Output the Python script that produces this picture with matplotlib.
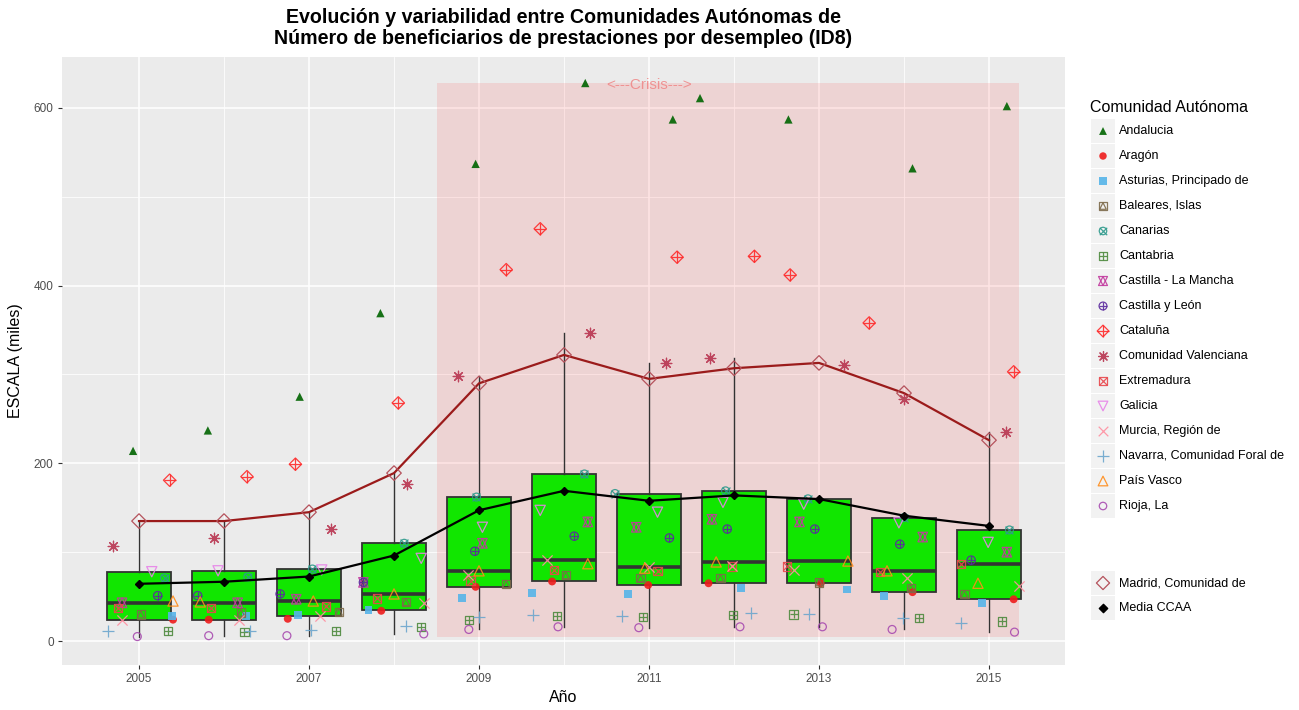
import numpy as np
import matplotlib.pyplot as plt
from matplotlib.patches import Rectangle

plt.rcParams['font.family'] = ['Liberation Sans', 'DejaVu Sans']

years = np.arange(2005, 2016)

# valores en miles
andalucia   = [214, 237, 275, 369, 537, 628, 587, 611, 587, 532, 602]
aragon      = [24, 24, 25, 34, 61, 67, 63, 65, 65, 55, 47]
asturias    = [28, 28, 29, 35, 48, 54, 53, 60, 58, 51, 43]
baleares    = [30, 32, 33, 44, 64, 74, 71, 71, 66, 60, 53]
canarias    = [71, 72, 81, 110, 162, 188, 166, 169, 160, 139, 125]
cantabria   = [11, 10, 11, 16, 24, 28, 27, 29, 30, 26, 22]
clm         = [43, 43, 47, 66, 110, 134, 128, 137, 134, 117, 100]
cyl         = [51, 51, 53, 66, 101, 118, 116, 126, 126, 109, 91]
cataluna    = [181, 185, 199, 268, 418, 464, 432, 433, 412, 358, 303]
valenciana  = [107, 116, 126, 177, 298, 347, 313, 318, 311, 272, 235]
extremadura = [37, 37, 39, 48, 68, 80, 79, 84, 84, 78, 87]
galicia     = [78, 79, 80, 93, 128, 147, 145, 156, 154, 133, 111]
murcia      = [24, 24, 28, 43, 74, 91, 83, 84, 80, 71, 62]
navarra     = [11, 11, 12, 17, 27, 29, 28, 31, 30, 26, 20]
pais_vasco  = [45, 44, 45, 53, 79, 87, 82, 89, 90, 79, 65]
rioja       = [5, 6, 6, 8, 13, 16, 15, 16, 16, 13, 10]
madrid      = [135, 135, 145, 189, 290, 322, 295, 307, 313, 279, 226]

# desplazamiento horizontal (jitter) de cada punto
j_andalucia   = [-0.07, -0.19, -0.11, -0.16, -0.04, 0.25, 0.28, -0.40, -0.36, 0.10, 0.21]
j_aragon      = [0.40, -0.18, -0.25, -0.15, -0.04, -0.14, -0.01, -0.30, 0.02, 0.10, 0.29]
j_asturias    = [0.39, 0.26, -0.13, -0.30, -0.20, -0.38, -0.25, 0.08, 0.33, -0.24, -0.08]
j_baleares    = [0.02, 0.20, 0.35, 0.14, 0.32, 0.02, -0.10, -0.16, 0.00, 0.08, -0.29]
j_canarias    = [0.30, 0.28, 0.04, 0.12, -0.03, 0.24, -0.40, -0.10, -0.13, 0.00, 0.24]
j_cantabria   = [0.34, 0.24, 0.32, 0.32, -0.12, -0.08, -0.07, -0.01, -0.30, 0.18, 0.15]
j_clm         = [-0.20, 0.16, -0.15, -0.36, 0.04, 0.28, -0.15, -0.26, -0.23, 0.22, 0.21]
j_cyl         = [0.22, -0.31, -0.34, -0.36, -0.05, 0.12, 0.24, -0.08, -0.05, -0.05, -0.21]
j_cataluna    = [0.36, 0.27, -0.16, 0.05, 0.32, -0.28, 0.33, 0.24, -0.34, -0.41, 0.29]
j_valenciana  = [-0.31, -0.12, 0.26, 0.15, -0.25, 0.30, 0.20, -0.28, 0.29, 0.00, 0.20]
j_extremadura = [-0.25, -0.15, 0.20, -0.20, -0.10, -0.12, 0.10, -0.02, -0.38, -0.28, -0.33]
j_galicia     = [0.15, -0.07, 0.15, 0.32, 0.04, -0.28, 0.10, -0.13, -0.18, -0.06, -0.01]
j_murcia      = [-0.20, 0.18, 0.13, 0.35, -0.13, -0.20, 0.00, -0.02, -0.30, 0.03, 0.35]
j_navarra     = [-0.36, 0.31, 0.02, 0.14, 0.00, -0.36, -0.32, 0.20, -0.12, -0.01, -0.33]
j_pais_vasco  = [0.40, -0.28, 0.05, 0.00, 0.00, 0.28, -0.05, -0.21, 0.34, -0.20, -0.13]
j_rioja       = [-0.02, -0.18, -0.26, 0.35, -0.12, -0.07, -0.12, 0.07, 0.04, -0.14, 0.30]

LINE_MK = ('x', '+', (8, 2, 0))

# nombre, valores, jitter, color, partes del simbolo (marker, relleno, escala)
ccaa = [
    ('Andalucia', andalucia, j_andalucia, '#006400', [('^', True, 1.0)]),
    ('Aragón', aragon, j_aragon, '#EE1C1C', [('o', True, 0.9)]),
    ('Asturias, Principado de', asturias, j_asturias, '#56B4E9', [('s', True, 0.9)]),
    ('Baleares, Islas', baleares, j_baleares, '#7D6A4A', [('s', False, 1.0), ('^', False, 0.7)]),
    ('Canarias', canarias, j_canarias, '#2E9A8C', [('o', False, 0.9), ('x', False, 0.9)]),
    ('Cantabria', cantabria, j_cantabria, '#4E8A3E', [('s', False, 1.0), ('+', False, 1.0)]),
    ('Castilla - La Mancha', clm, j_clm, '#C23A9E', [('^', False, 1.3), ('v', False, 1.3)]),
    ('Castilla y León', cyl, j_cyl, '#5B2A9E', [('o', False, 1.0), ('+', False, 1.0)]),
    ('Cataluña', cataluna, j_cataluna, '#FF2A2A', [('D', False, 1.1), ('+', False, 2.0)]),
    ('Comunidad Valenciana', valenciana, j_valenciana, '#B8334F', [((8, 2, 0), False, 1.6)]),
    ('Extremadura', extremadura, j_extremadura, '#E8474C', [('s', False, 1.0), ('x', False, 1.0)]),
    ('Galicia', galicia, j_galicia, '#E783E8', [('v', False, 1.5)]),
    ('Murcia, Región de', murcia, j_murcia, '#FF8FA0', [('x', False, 1.5)]),
    ('Navarra, Comunidad Foral de', navarra, j_navarra, '#6CA6CD', [('+', False, 2.0)]),
    ('País Vasco', pais_vasco, j_pais_vasco, '#FF8C1A', [('^', False, 1.5)]),
    ('Rioja, La', rioja, j_rioja, '#A84BB0', [('o', False, 0.9)]),
]


def simbolo(ax, x, y, color, parts, s=36, z=5, transform=None, alpha=0.9):
    kw = {} if transform is None else {'transform': transform}
    for mk, filled, k in parts:
        if filled:
            ax.scatter(x, y, s=s * k, marker=mk, c=color, edgecolors='none',
                       zorder=z, alpha=alpha, **kw)
        elif isinstance(mk, tuple) or mk in LINE_MK:
            ax.scatter(x, y, s=s * k, marker=mk, color=color, linewidths=0.9,
                       zorder=z, alpha=alpha, **kw)
        else:
            ax.scatter(x, y, s=s * k, marker=mk, facecolors='none', edgecolors=color,
                       linewidths=0.9, zorder=z, alpha=alpha, **kw)


W, H = 1299, 710
fig = plt.figure(figsize=(W / 100, H / 100), dpi=100)
ax = fig.add_axes([62 / W, 45 / H, 1003 / W, 608 / H])
ax.set_facecolor('#EBEBEB')
for sp in ax.spines.values():
    sp.set_visible(False)

todos = np.array([c[1] for c in ccaa] + [madrid], dtype=float)   # 17 x 11
media = todos.mean(axis=0)

# zona de crisis
xs_all = np.concatenate([years + np.array(c[2]) for c in ccaa])
x0, x1 = 2008.5, xs_all.max()
y0, y1 = todos.min(), todos.max()
ax.add_patch(Rectangle((x0, y0), x1 - x0, y1 - y0, facecolor='red', alpha=0.1,
                       edgecolor='none', zorder=1))
ax.text(2011, y1 - 2, '<---Crisis--->', color='#F08080', fontsize=11,
        ha='center', va='center', alpha=0.8, zorder=2)

# cajas
bp = ax.boxplot([todos[:, i] for i in range(len(years))], positions=years, widths=0.75,
                patch_artist=True, showfliers=False, whis=1.5, manage_ticks=False,
                boxprops=dict(facecolor='#11E600', edgecolor='#333333', linewidth=1.3),
                medianprops=dict(color='#333333', linewidth=2.6),
                whiskerprops=dict(color='#333333', linewidth=1.0),
                capprops=dict(linewidth=0))
for art in bp['boxes'] + bp['medians'] + bp['whiskers']:
    art.set_zorder(3)

# puntos de cada comunidad
for nombre, vals, jit, color, parts in ccaa:
    simbolo(ax, years + np.array(jit), vals, color, parts)

# Madrid y media
ax.plot(years, madrid, color='#9B1B1B', linewidth=1.6, zorder=4)
ax.scatter(years, madrid, marker='D', s=55, facecolors='none', edgecolors='#B5525C',
           linewidths=0.9, zorder=6)
ax.plot(years, media, color='black', linewidth=1.6, marker='D', markersize=4.5, zorder=6)

ax.set_xlim(2004.094, 2015.894)
ax.set_ylim(-27, 657.3)
ax.set_xticks(np.arange(2005, 2016, 2))
ax.set_xticks(np.arange(2006, 2016, 2), minor=True)
ax.set_yticks([0, 200, 400, 600])
ax.set_yticks([100, 300, 500], minor=True)
ax.grid(which='major', color='white', linewidth=1.1)
ax.grid(which='minor', color='white', linewidth=0.55)
ax.set_axisbelow(True)
ax.tick_params(which='major', length=3, width=0.8, color='#333333', labelsize=8.5,
               labelcolor='#4D4D4D', pad=3)
ax.tick_params(which='minor', length=0)

fig.text(563 / W, 1 - 28 / H,
         'Evolución y variabilidad entre Comunidades Autónomas de\n'
         'Número de beneficiarios de prestaciones por desempleo (ID8)',
         ha='center', va='center', fontsize=14.1, fontweight='bold', linespacing=1.1)
fig.text(563 / W, 1 - 697 / H, 'Año', ha='center', va='center', fontsize=11.5)
fig.text(16 / W, 1 - 361 / H, 'ESCALA (miles)', ha='center', va='center',
         fontsize=11.5, rotation=90)

# leyenda manual
lax = fig.add_axes([0, 0, 1, 1])
lax.set_xlim(0, W)
lax.set_ylim(H, 0)
lax.axis('off')
lax.text(1090, 107, 'Comunidad Autónoma', fontsize=11.5, va='center', ha='left')
for i, (nombre, vals, jit, color, parts) in enumerate(ccaa):
    yc = 131 + 25 * i
    lax.add_patch(Rectangle((1091, yc - 12), 24, 24, facecolor='#F2F2F2', edgecolor='none'))
    simbolo(lax, [1103], [yc], color, parts, s=32)
    lax.text(1119, yc, nombre, fontsize=9, va='center', ha='left')

for yc, nombre in [(583, 'Madrid, Comunidad de'), (608, 'Media CCAA')]:
    lax.add_patch(Rectangle((1091, yc - 12), 24, 24, facecolor='#F2F2F2', edgecolor='none'))
    lax.text(1119, yc, nombre, fontsize=9, va='center', ha='left')
lax.scatter([1103], [583], marker='D', s=45, facecolors='none', edgecolors='#B5525C',
            linewidths=0.9)
lax.scatter([1103], [608], marker='D', s=18, color='black')

fig.savefig('out.png', dpi=100)
